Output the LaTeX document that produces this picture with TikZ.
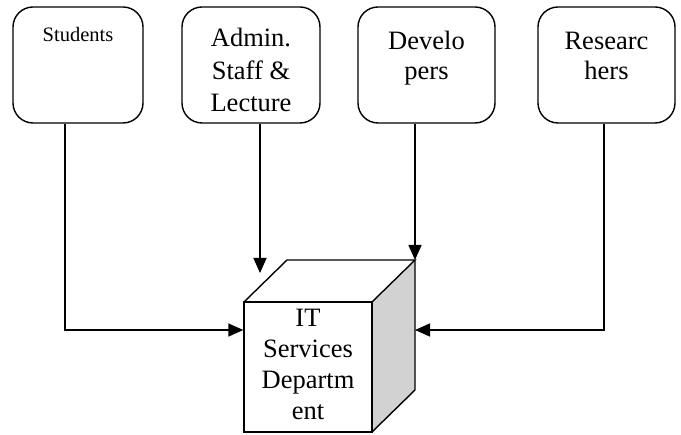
\documentclass[tikz,border=0pt]{standalone}
\usepackage{fontspec}
\setmainfont{Liberation Serif}
\usetikzlibrary{arrows.meta,calc}
\begin{document}
\begin{tikzpicture}[x=1pt,y=-1pt,
 box/.style={draw,line width=1.4pt,rounded corners=20pt,minimum height=116pt,inner sep=0pt},
 lbl/.style={anchor=north,align=center,font=\fontsize{26.5}{31}\selectfont,inner sep=0pt},
 arr/.style={line width=1.6pt,-{Triangle[length=15pt,width=13pt]}},
 ln/.style={line width=1.4pt,line join=miter}]
\useasboundingbox (0,0) rectangle (681,435);
% boxes
\node[box,minimum width=130pt] (stu) at (78,65) {};
\node[box,minimum width=138pt] (adm) at (251,65) {};
\node[box,minimum width=137pt] (dev) at (426.5,65) {};
\node[box,minimum width=137pt] (res) at (606.5,65) {};
\node[lbl,font=\fontsize{20.5}{24}\selectfont] (stut) at (78,27) {Students};
\node[lbl,font=\fontsize{26.5}{32.5}\selectfont] (admt) at (251,28) {Admin.\\Staff \&\\Lecture};
\node[lbl,font=\fontsize{26.5}{30}\selectfont] (devt) at (426.5,31) {Develo\\pers};
\node[lbl,font=\fontsize{26.5}{30}\selectfont] (rest) at (606.5,32) {Researc\\hers};
% cube
\coordinate (f1) at (244,302);
\coordinate (f2) at (372,302);
\coordinate (f3) at (372,432);
\coordinate (b1) at (287,260);
\coordinate (b2) at (415,260);
\coordinate (b3) at (415,390);
\fill[gray!35] (f2) -- (b2) -- (b3) -- (f3) -- cycle;
\draw[ln] (f1) -- (b1) -- (b2) -- (f2);
\draw[ln] (b2) -- (b3) -- (f3);
\node[draw,ln,fill=white,minimum width=128pt,minimum height=130pt,inner sep=0pt] (cube) at (308,367) {};
\node[lbl] (cubet) at (308,309) {IT\\Services\\Departm\\ent};
% connectors
\coordinate (admEnd) at (260,273);
\coordinate (resEnd) at (415,330);
\draw[arr] (stu.south -| 65,0) |- (cube.west |- 0,330);
\draw[arr] (adm.south -| 260,0) -- (admEnd);
\draw[arr] (dev.south -| 415,0) -- (b2);
\draw[arr] (res.south -| 604,0) |- (resEnd);
\end{tikzpicture}
\end{document}
